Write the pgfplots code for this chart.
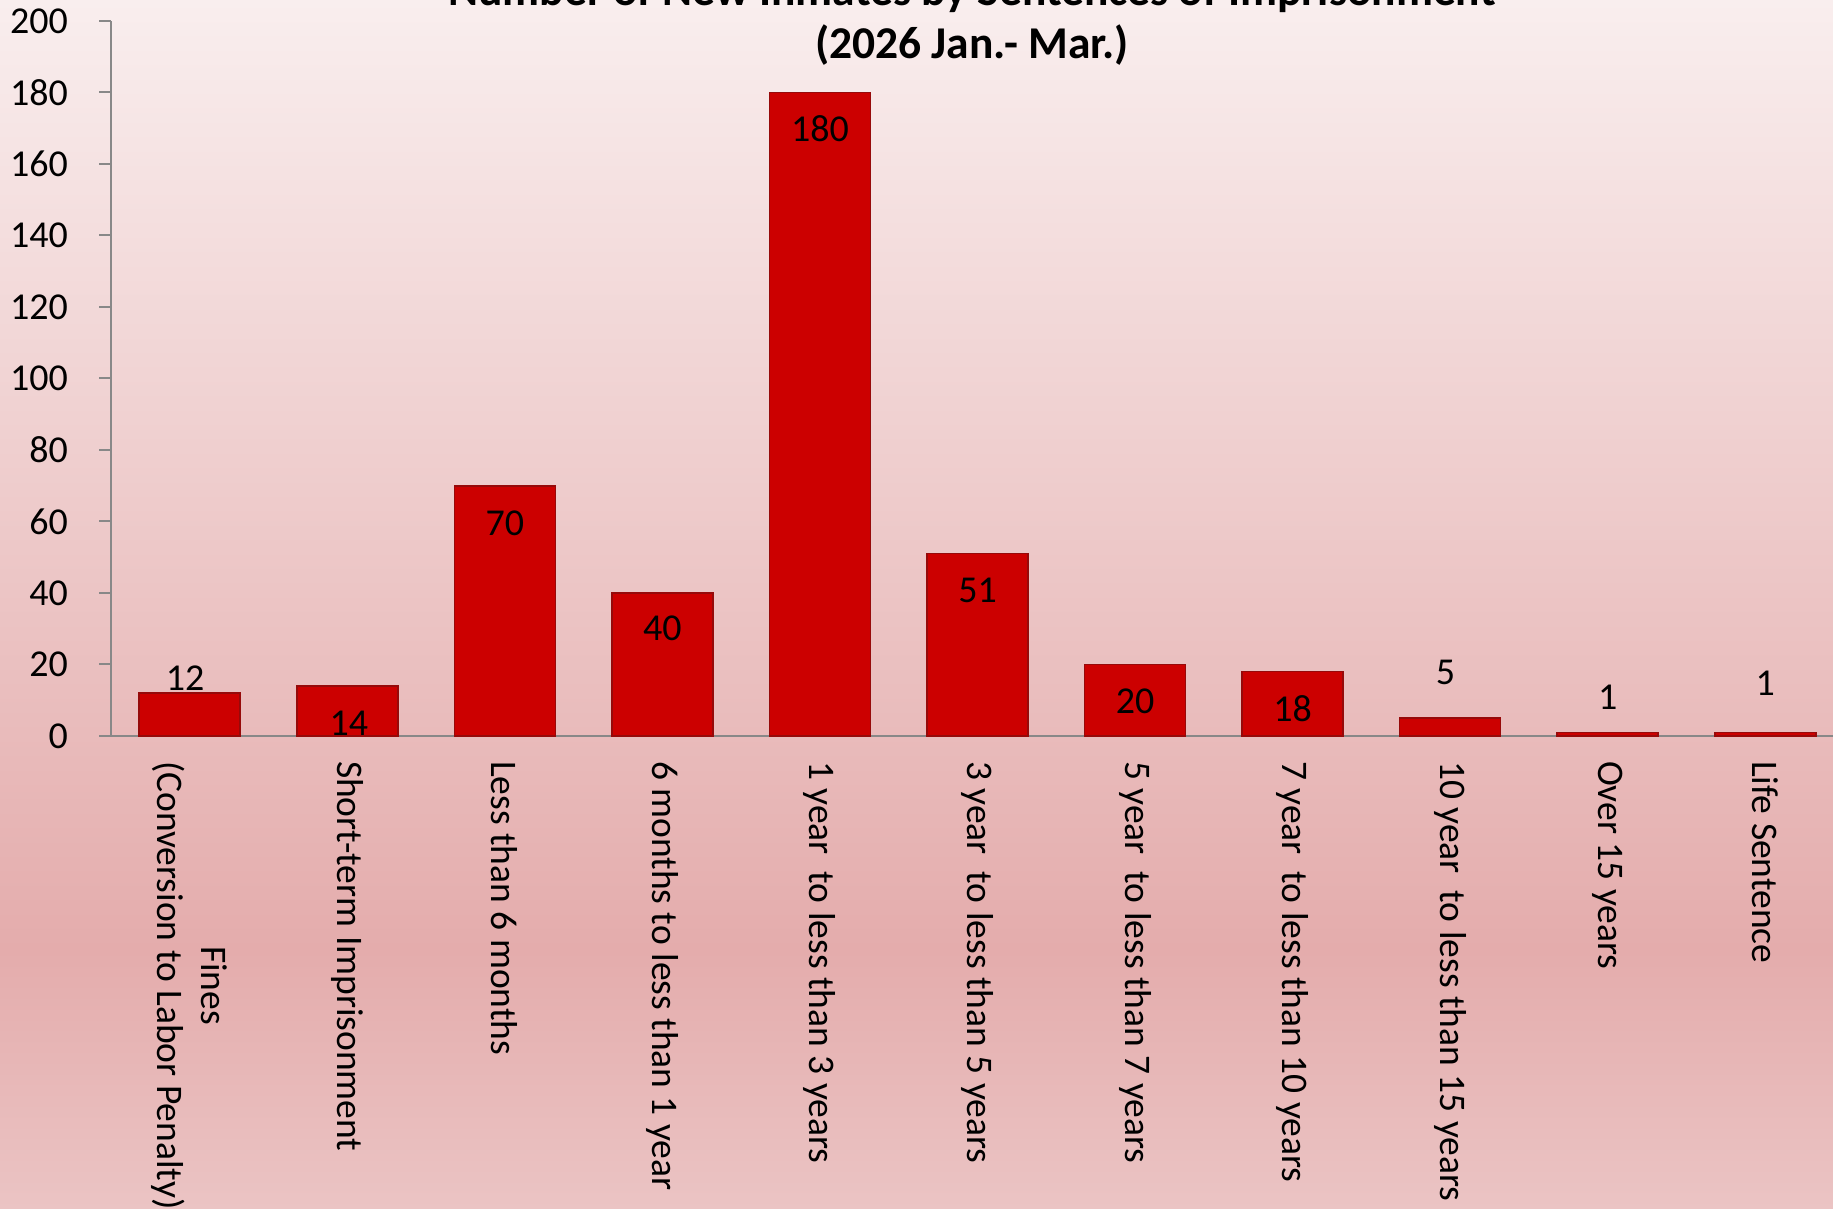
\documentclass[border=0pt]{standalone}
\usepackage{pgfplots}
\pgfplotsset{compat=1.18}
\usepackage{fontspec}
\setmainfont{Carlito}
\definecolor{bgtop}{RGB}{249,238,238}
\definecolor{bgmid}{RGB}{228,172,172}
\definecolor{bgbot}{RGB}{235,196,196}
\definecolor{barred}{RGB}{204,0,0}
\definecolor{baredge}{RGB}{150,10,10}
\definecolor{axgray}{RGB}{136,136,136}
\tikzset{vlab/.style={font=\fontsize{19}{22}\selectfont, inner sep=0pt}}
\begin{document}
\begin{tikzpicture}
\clip (0pt,0pt) rectangle (916.5pt,604.5pt);
\shade[top color=bgtop, bottom color=bgmid] (0pt,129.5pt) rectangle (916.5pt,604.5pt);
\shade[top color=bgmid, bottom color=bgbot] (0pt,0pt) rectangle (916.5pt,129.6pt);
\node[font=\bfseries\fontsize{22.75}{26}\selectfont, anchor=base] at (486pt,601.5pt) {Number of New Inmates by Sentences of Imprisonment};
\node[font=\bfseries\fontsize{22.75}{26}\selectfont, anchor=base] at (486pt,575pt) {(2026 Jan.- Mar.)};
\begin{axis}[
  at={(55.5pt,236.5pt)}, anchor=south west,
  scale only axis, width=861pt, height=357.5pt,
  xmin=-0.5, xmax=10.43, ymin=0, ymax=200,
  axis lines*=left,
  axis line style={axgray, line width=1pt},
  ytick={0,20,...,200},
  xtick={0,...,10},
  xticklabels={{Fines\\(Conversion to Labor Penalty)},{Short-term Imprisonment},{Less than 6 months},{6 months to less than 1 year},{1 year\ \ to less than 3 years},{3 year\ \ to less than 5 years},{5 year\ \ to less than 7 years},{7 year\ \ to less than 10 years},{10 year\ \ to less than 15 years},{Over 15 years},{Life Sentence}},
  x tick label style={rotate=-90, anchor=west, align=center, font=\fontsize{18.75}{22}\selectfont, xshift=3pt},
  y tick label style={font=\fontsize{19}{22}\selectfont, xshift=-12pt},
  /pgf/number format/assume math mode=true,
  x tick style={draw=none},
  y tick style={axgray, line width=1pt},
  tick align=outside,
  major tick length=6pt,
  clip=false,
]
\addplot[ybar, bar width=50.5pt, fill=barred, draw=baredge, line width=0.8pt]
  coordinates {(0,12) (1,14) (2,70) (3,40) (4,180) (5,51) (6,20) (7,18) (8,5) (9,1) (10,1)};
\node[vlab] at (axis cs:-0.03,16.2) {12};
\node[vlab] at (axis cs:1.01,3.6) {14};
\node[vlab] at (axis cs:2,59.6) {70};
\node[vlab] at (axis cs:3,30) {40};
\node[vlab] at (axis cs:4,170) {180};
\node[vlab] at (axis cs:5,40.8) {51};
\node[vlab] at (axis cs:6,9.6) {20};
\node[vlab] at (axis cs:7,7.7) {18};
\node[vlab] at (axis cs:7.97,17.9) {5};
\node[vlab] at (axis cs:9,10.9) {1};
\node[vlab] at (axis cs:10,14.8) {1};
\end{axis}
\end{tikzpicture}
\end{document}
